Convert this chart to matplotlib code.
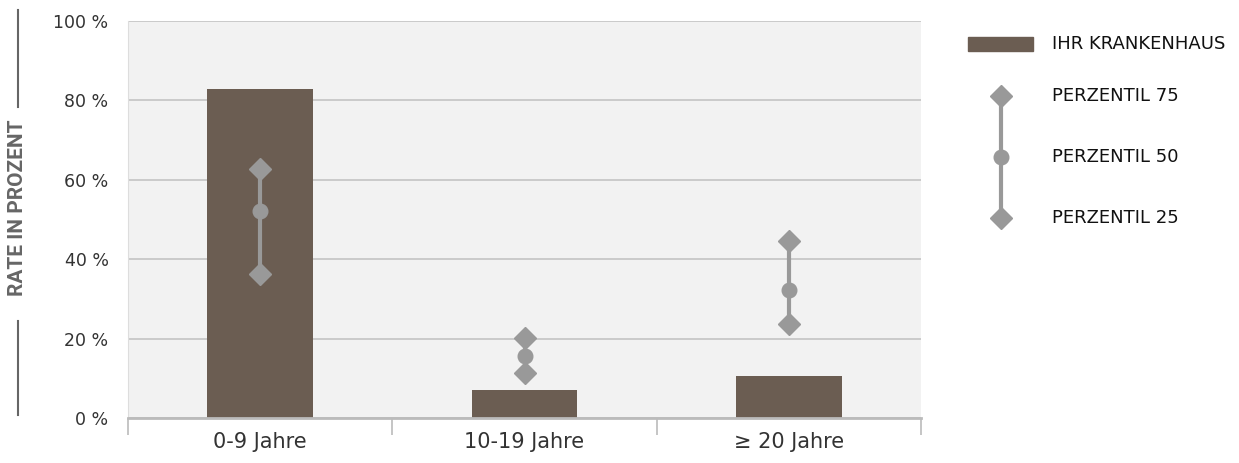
import matplotlib
matplotlib.use("Agg")
import matplotlib.pyplot as plt
from matplotlib.lines import Line2D

categories = ["0-9 Jahre", "10-19 Jahre", "\u2265 20 Jahre"]
hospital = [82.9, 7.0, 10.6]
p75 = [62.7, 20.1, 44.6]
p50 = [52.1, 15.6, 32.2]
p25 = [36.3, 11.3, 23.7]
yticks = [0, 20, 40, 60, 80, 100]
ytick_labels = ["0 %", "20 %", "40 %", "60 %", "80 %", "100 %"]
legend_labels = ["IHR KRANKENHAUS", "PERZENTIL 75", "PERZENTIL 50", "PERZENTIL 25"]

BAR = "#6b5d52"
MARK = "#999999"
TXT = "#333333"

plt.rcParams['font.family'] = ['DejaVu Sans']
fig = plt.figure(figsize=(12.39, 4.63), dpi=100)
ax = fig.add_axes([128/1239, 45/463, 793/1239, 397/463])
ax.set_facecolor("#f2f2f2")

x = list(range(len(categories)))
ax.bar(x, hospital, width=0.4, color=BAR, zorder=2)
for xi, a, m, b in zip(x, p75, p50, p25):
    ax.plot([xi, xi], [b, a], color=MARK, lw=3, zorder=3, solid_capstyle='butt')
    ax.plot([xi, xi], [a, b], ls='none', marker='D', ms=11, color=MARK, zorder=4)
    ax.plot([xi], [m], ls='none', marker='o', ms=10.5, color=MARK, zorder=4)

ax.set_xlim(-0.5, 2.5)
ax.set_ylim(0, 100)
ax.set_yticks(yticks)
ax.set_yticklabels(ytick_labels, fontsize=12.5, color=TXT)
ax.yaxis.grid(True, color="#c4c4c4", lw=1.2, zorder=1)
ax.set_axisbelow(True)
ax.tick_params(axis='y', length=0, pad=14)

ax.set_xticks(x)
ax.set_xticklabels(categories, fontsize=15, color=TXT)
ax.set_xticks([-0.5, 0.5, 1.5, 2.5], minor=True)
ax.tick_params(axis='x', which='major', length=0, pad=10)
ax.tick_params(axis='x', which='minor', length=12, color="#bbbbbb", width=1.2)

for s in ['top', 'right']:
    ax.spines[s].set_visible(False)
ax.spines['left'].set_color("#dddddd")
ax.spines['bottom'].set_color("#bbbbbb")
ax.spines['bottom'].set_linewidth(2)

# y label with lines
fig.text(18/1239, 1 - 208/463, "RATE IN PROZENT", rotation=90, ha='center', va='center',
         fontsize=15, color="#666666", fontweight='bold', family=['Roboto', 'DejaVu Sans'])
fig.add_artist(Line2D([18/1239, 18/1239], [1 - 10/463, 1 - 107/463], color="#666666", lw=1.5))
fig.add_artist(Line2D([18/1239, 18/1239], [1 - 321/463, 1 - 415/463], color="#666666", lw=1.5))

# legend
lg = fig.add_axes([950/1239, 0, 289/1239, 1])
lg.set_xlim(950, 1239)
lg.set_ylim(463, 0)
lg.axis('off')
lg.add_patch(plt.Rectangle((968, 37), 65, 14, color=BAR))
lg.plot([1001, 1001], [96, 218], color=MARK, lw=3, solid_capstyle='butt')
lg.plot([1001, 1001], [96, 218], ls='none', marker='D', ms=11, color=MARK)
lg.plot([1001], [157], ls='none', marker='o', ms=10.5, color=MARK)
for lab, yy in zip(legend_labels, [44, 96, 157, 218]):
    lg.text(1052, yy, lab, fontsize=13, color="#111111", va='center', ha='left')

fig.savefig("out.png", dpi=100)
